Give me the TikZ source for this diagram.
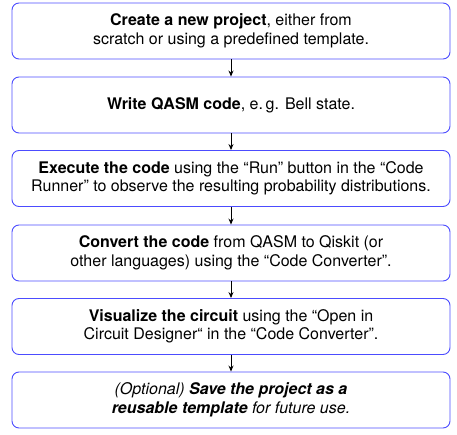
\documentclass[tikz,border=0pt]{standalone}
\usepackage{fontspec}
\setmainfont{TeX Gyre Heros}
\usetikzlibrary{arrows.meta}
\begin{document}
\begin{tikzpicture}[x=1pt, y=-1pt, font=\fontsize{16}{18.5}\selectfont]
    \tikzset{task box/.style={draw=blue!70, line width=0.9pt, rounded corners=7pt,
        minimum width=438pt, minimum height=56pt, align=center, inner sep=2pt}}
    \tikzset{flow arrow/.style={-{Stealth[length=6pt,width=5pt]}, line width=0.9pt}}
    \useasboundingbox (0,0) rectangle (457,435);

    % Workflow steps, top to bottom
    \node[task box] (create) at (231, 31) {\textbf{Create a new project}, either from\\scratch or using a predefined template.};
    \node[task box] (write) at (231, 105) {\textbf{Write QASM code}, e.\,g. Bell state.};
    \node[task box] (execute) at (231, 178.5) {\textbf{Execute the code} using the “Run” button in the “Code\\Runner” to observe the resulting probability distributions.};
    \node[task box] (convert) at (231, 253) {\textbf{Convert the code} from QASM to Qiskit (or\\other languages) using the “Code Converter”.};
    \node[task box] (visualize) at (231, 326.5) {\textbf{Visualize the circuit} using the “Open in\\Circuit Designer“ in the “Code Converter”.};
    \node[task box, font=\fontsize{16}{18.5}\selectfont\itshape] (save) at (231, 400) {(Optional) \textbf{Save the project as a}\\\textbf{reusable template} for future use.};

    % Arrows between steps
    \draw[flow arrow] (create) -- (write);
    \draw[flow arrow] (write) -- (execute);
    \draw[flow arrow] (execute) -- (convert);
    \draw[flow arrow] (convert) -- (visualize);
    \draw[flow arrow] (visualize) -- (save);

\end{tikzpicture}
\end{document}
